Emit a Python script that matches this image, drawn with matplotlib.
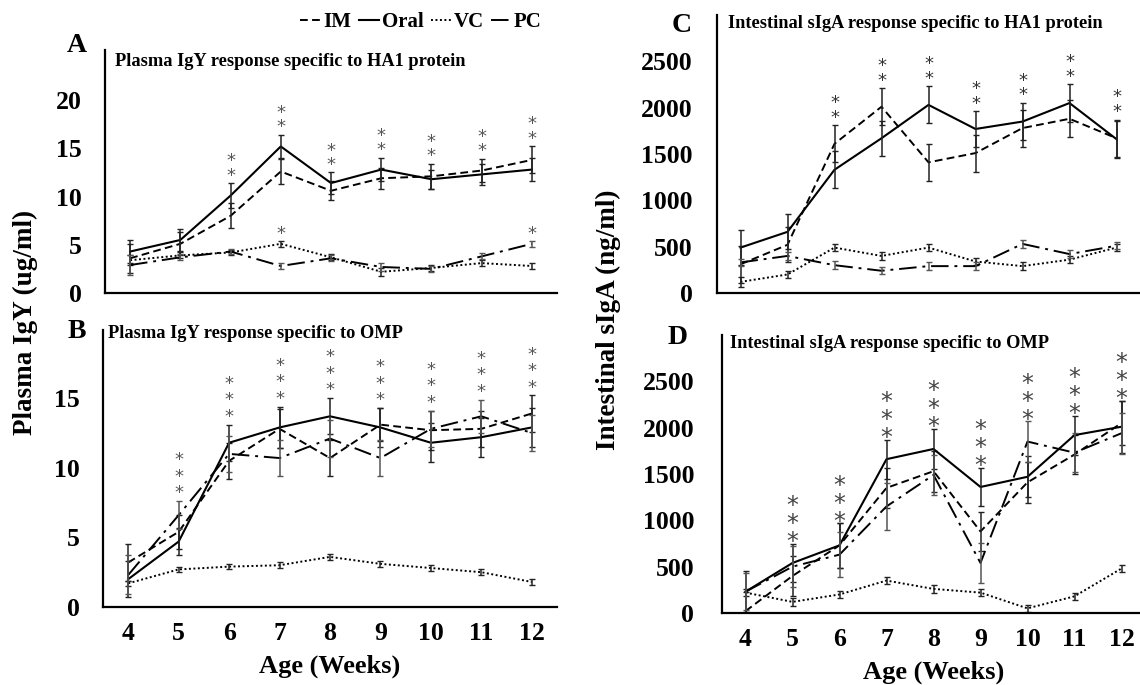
import numpy as np
import matplotlib.pyplot as plt
from matplotlib.lines import Line2D

plt.rcParams['font.family'] = ['Liberation Serif', 'DejaVu Serif']
plt.rcParams['font.weight'] = 'bold'
plt.rcParams['axes.labelweight'] = 'bold'

weeks = [4, 5, 6, 7, 8, 9, 10, 11, 12]

# A: plasma IgY, HA1 protein (ug/ml)
a_im = [3.6, 5.1, 8.0, 12.6, 10.6, 11.9, 12.1, 12.7, 13.8]
a_oral = [4.3, 5.5, 10.1, 15.2, 11.4, 12.8, 11.8, 12.3, 12.8]
a_vc = [3.4, 3.9, 4.2, 5.1, 3.7, 2.2, 2.6, 3.1, 2.8]
a_pc = [2.9, 3.7, 4.3, 2.8, 3.6, 2.7, 2.5, 3.8, 5.1]
a_im_err = [1.5, 1.2, 1.3, 1.3, 1.0, 1.1, 1.3, 1.2, 1.4]
a_oral_err = [1.2, 1.1, 1.3, 1.2, 1.1, 1.2, 1.0, 1.1, 1.2]
a_vc_err = [0.5, 0.3, 0.3, 0.3, 0.3, 0.4, 0.3, 0.3, 0.3]
a_pc_err = [1.0, 0.3, 0.3, 0.3, 0.3, 0.4, 0.3, 0.3, 0.3]
a_stars = [0, 0, 2, 2, 2, 2, 2, 2, 2]
a_low_stars = [0, 0, 0, 1, 0, 0, 0, 0, 1]

# B: plasma IgY, OMP (ug/ml)
b_im = [3.2, 5.4, 10.5, 12.8, 10.7, 13.1, 12.7, 12.8, 13.9]
b_oral = [2.0, 4.7, 11.8, 12.9, 13.7, 12.9, 11.8, 12.2, 12.9]
b_vc = [1.7, 2.7, 2.9, 3.0, 3.6, 3.1, 2.8, 2.5, 1.8]
b_pc = [2.3, 6.6, 11.0, 10.7, 12.1, 10.7, 12.8, 13.7, 12.5]
b_im_err = [1.3, 1.2, 1.3, 1.4, 1.3, 1.2, 1.4, 1.3, 1.3]
b_oral_err = [1.3, 1.0, 1.3, 1.5, 1.3, 1.4, 1.4, 1.4, 1.4]
b_vc_err = [0.2, 0.2, 0.2, 0.2, 0.2, 0.2, 0.2, 0.2, 0.2]
b_pc_err = [1.4, 1.0, 1.3, 1.3, 1.3, 1.3, 1.3, 1.2, 1.3]
b_stars = [0, 3, 3, 3, 3, 3, 3, 3, 3]

# C: intestinal sIgA, HA1 protein (ng/ml)
c_im = [310, 520, 1610, 2010, 1410, 1510, 1780, 1880, 1670]
c_oral = [490, 660, 1330, 1670, 2030, 1770, 1850, 2050, 1660]
c_vc = [120, 200, 490, 400, 490, 340, 290, 360, 490]
c_pc = [330, 400, 300, 240, 290, 290, 530, 420, 510]
c_im_err = [200, 190, 200, 200, 200, 200, 200, 200, 200]
c_oral_err = [190, 190, 200, 190, 200, 190, 200, 200, 200]
c_vc_err = [50, 40, 40, 40, 40, 40, 40, 40, 40]
c_pc_err = [40, 40, 40, 40, 40, 40, 40, 40, 40]
c_stars = [0, 0, 2, 2, 2, 2, 2, 2, 2]

# D: intestinal sIgA, OMP (ng/ml)
d_im = [20, 400, 730, 1350, 1530, 880, 1410, 1710, 2050]
d_oral = [230, 540, 730, 1660, 1770, 1360, 1470, 1920, 2010]
d_vc = [220, 120, 200, 350, 260, 220, 50, 180, 480]
d_pc = [230, 500, 630, 1150, 1490, 540, 1850, 1730, 1940]
d_im_err = [210, 220, 240, 220, 220, 210, 220, 210, 240]
d_oral_err = [220, 210, 240, 210, 220, 210, 220, 210, 280]
d_vc_err = [40, 40, 40, 40, 40, 40, 40, 40, 40]
d_pc_err = [200, 220, 240, 250, 220, 220, 220, 210, 220]
d_stars = [0, 3, 3, 3, 3, 3, 3, 3, 3]

styles = {
    'IM': dict(linestyle=(0, (4, 2.2)), lw=1.4),
    'Oral': dict(linestyle='-', lw=1.5),
    'VC': dict(linestyle=(0, (1, 1.3)), lw=1.4),
    'PC': dict(linestyle=(0, (9, 3, 1.5, 3)), lw=1.4),
}


def star_stack(ax, x, y, n, size, gap, off, color):
    # one text per stack of asterisks, lowest star centred `off` pt above y
    ax.annotate('\n'.join(['*'] * n), xy=(x, y),
                xytext=(0, off + (n - 1) * gap / 2), textcoords='offset points',
                ha='center', va='center', fontsize=size, color=color,
                fontweight='normal', family='DejaVu Sans',
                linespacing=gap / (0.95 * size))


def panel(ax, data, ylim, yticks, stars, star_size, star_gap, star_off,
          star_color='#555555', show_x=False, ypad=16.5):
    for name, (vals, err) in data.items():
        ax.plot(weeks, vals, color='black', **styles[name])
        ecol = '#222222' if name != 'PC' else '#555555'
        ax.errorbar(weeks, vals, yerr=err, fmt='none', ecolor=ecol,
                    elinewidth=1.1, capsize=2.2, capthick=1.0)
    tops = np.max([np.array(v) + np.array(e) for n, (v, e) in data.items()
                   if n != 'VC'], axis=0)
    for x, t, n in zip(weeks, tops, stars):
        if n:
            star_stack(ax, x, t, n, star_size, star_gap, star_off, star_color)
    ax.set_xlim(3.5, 12.5)
    ax.set_ylim(*ylim)
    ax.set_yticks(yticks)
    ax.set_xticks(weeks)
    ax.tick_params(length=0)
    ax.tick_params(axis='y', labelsize=18.5, pad=ypad)
    ax.tick_params(axis='x', pad=11, labelsize=18.5)
    if not show_x:
        ax.set_xticklabels([])
    for s in ['top', 'right']:
        ax.spines[s].set_visible(False)
    for s in ['left', 'bottom']:
        ax.spines[s].set_linewidth(1.6)
    ax.patch.set_alpha(0)


fig = plt.figure(figsize=(11.4, 6.85), dpi=100)
W, H = 1140, 685


def box(l, r, t, b):
    return [l / W, 1 - b / H, (r - l) / W, (b - t) / H]


axA = fig.add_axes(box(105, 557, 50, 293))
axB = fig.add_axes(box(103, 557, 330, 607))
axC = fig.add_axes(box(717, 1140, 15, 293))
axD = fig.add_axes(box(722, 1145, 335, 613))

panel(axA, {'IM': (a_im, a_im_err), 'Oral': (a_oral, a_oral_err),
            'VC': (a_vc, a_vc_err), 'PC': (a_pc, a_pc_err)},
      (0, 25.2), [0, 5, 10, 15, 20], a_stars, 13, 9.2, 6)
low = np.maximum(np.array(a_vc) + a_vc_err, np.array(a_pc) + a_pc_err)
for x, t, n in zip(weeks, low, a_low_stars):
    if n:
        star_stack(axA, x, t, n, 13, 9.2, 5, '#555555')

panel(axB, {'IM': (b_im, b_im_err), 'Oral': (b_oral, b_oral_err),
            'VC': (b_vc, b_vc_err), 'PC': (b_pc, b_pc_err)},
      (0, 19.9), [0, 5, 10, 15], b_stars, 13, 11, 6.5, show_x=True)

panel(axC, {'IM': (c_im, c_im_err), 'Oral': (c_oral, c_oral_err),
            'VC': (c_vc, c_vc_err), 'PC': (c_pc, c_pc_err)},
      (0, 3000), [0, 500, 1000, 1500, 2000, 2500], c_stars, 13, 9.5, 6,
      star_color='#333333', ypad=17.5)

panel(axD, {'IM': (d_im, d_im_err), 'Oral': (d_oral, d_oral_err),
            'VC': (d_vc, d_vc_err), 'PC': (d_pc, d_pc_err)},
      (0, 3000), [0, 500, 1000, 1500, 2000, 2500], d_stars, 17, 11, 3,
      star_color='#444444', show_x=True, ypad=20)

for ax in (axB, axD):
    ax.set_xlabel('Age (Weeks)', fontsize=19, fontweight='bold', labelpad=7)

title_kw = dict(fontsize=13.2, fontweight='bold', va='center', ha='left')
fig.text(115 / W, 1 - 62 / H, 'Plasma IgY response specific to HA1 protein', **title_kw)
fig.text(108 / W, 1 - 334 / H, 'Plasma IgY response specific to OMP', **title_kw)
fig.text(728 / W, 1 - 23 / H, 'Intestinal sIgA response specific to HA1 protein', **title_kw)
fig.text(730 / W, 1 - 343 / H, 'Intestinal sIgA response specific to OMP', **title_kw)

letter_kw = dict(fontsize=20, fontweight='bold', ha='center', va='center')
fig.text(77 / W, 1 - 45 / H, 'A', **letter_kw)
fig.text(77 / W, 1 - 332 / H, 'B', **letter_kw)
fig.text(682 / W, 1 - 25 / H, 'C', **letter_kw)
fig.text(678 / W, 1 - 338 / H, 'D', **letter_kw)

ylab_kw = dict(fontsize=19.5, fontweight='bold', rotation=90, ha='center', va='center')
fig.text(25 / W, 1 - 322 / H, 'Plasma IgY (ug/ml)', **ylab_kw)
fig.text(608 / W, 1 - 320 / H, 'Intestinal sIgA (ng/ml)', **ylab_kw)

handles = [Line2D([], [], color='black', **styles[n]) for n in ['IM', 'Oral', 'VC', 'PC']]
fig.legend(handles, ['IM', 'Oral', 'VC', 'PC'], loc='center', ncol=4,
           bbox_to_anchor=(421 / W, 1 - 22 / H), frameon=False,
           prop=dict(size=15, weight='bold'), handlelength=1.0,
           handletextpad=0.1, columnspacing=0.35)

fig.savefig('out.png', dpi=100)
